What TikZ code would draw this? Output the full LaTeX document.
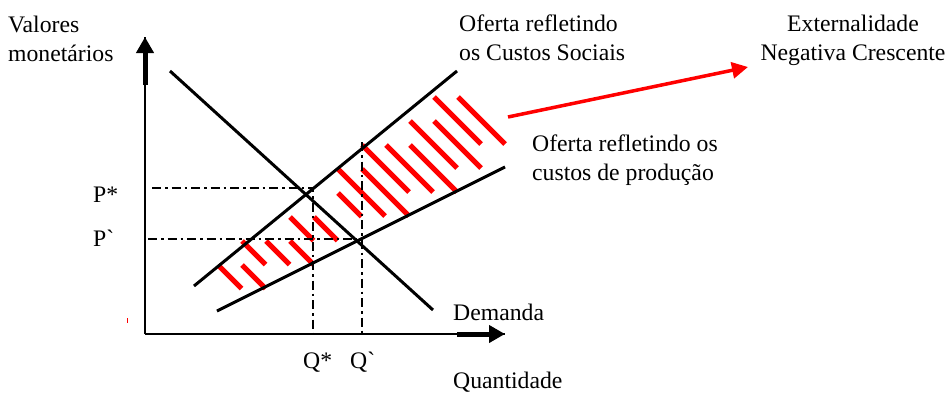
\documentclass[tikz,border=0pt]{standalone}
\usepackage{fontspec}
\setmainfont{Liberation Serif}
\usetikzlibrary{arrows.meta}
\tikzset{
  curva/.style={black, line width=3pt},
  guia/.style={black, line width=2.8pt, dash pattern=on 9pt off 4pt on 2.5pt off 4pt},
  hachura/.style={red, line width=5pt},
  rotulo/.style={inner sep=0pt, font=\fontsize{23.7}{28.5}\selectfont},
  ponta/.style={-{Triangle[length=16pt,width=17pt]}},
}

\begin{document}
\begin{tikzpicture}[x=1pt,y=-1pt]
\useasboundingbox (0,0) rectangle (948,394);
% eixos
\coordinate (O) at (145,334);
\coordinate (Ytopo) at (145,37);
\coordinate (Xfim) at (505,334);
\draw[black,line width=2.5pt] (O) -- (Ytopo);
\draw[black,line width=2.5pt] (O) -- (Xfim);
\draw[black,line width=5pt,ponta] (145,85) -- (Ytopo);
\draw[black,line width=5pt,ponta] (457,334) -- (Xfim);
% hachuras
\foreach \c/\r/\n in {0/0/1, 1/0/1, 1/1/1, 2/1/1, 3/1/1, 3/2/1, 4/2/1, 5/3/1,
  5/4/2, 6/4/2, 6/5/2, 7/5/2, 8/5/2, 8/6/2, 9/6/2, 9/7/2, 10/7/2} {
 \draw[hachura] ({218+24*\c},{265-24*\r}) --++ ({23.5*\n},{23.5*\n});
}
% curvas
\draw[curva] (170,71) -- (433,310);
\draw[curva] (194,286) -- (457,71);
\draw[curva] (217,311) -- (505,167);
% linhas de referencia
\draw[guia] (152,188) -- (313,188) -- (313,334);
\draw[guia] (148,239) -- (357,239);
\draw[guia] (362,142) -- (362,334);
\draw[red,line width=1pt] (127.5,318) -- (127.5,323);
% seta
\coordinate (Sbase) at (508,117);
\coordinate (Sfim) at (748,67);
\draw[red,line width=3.5pt,-{Triangle[length=16pt,width=16pt]}] (Sbase) -- (Sfim);
% textos
\node[rotulo,anchor=base west,align=left] (vm) at (8,61) {Valores\\monet\'arios};
\node[rotulo,anchor=base west,align=left] (os) at (459,60) {Oferta refletindo\\os Custos Sociais};
\node[rotulo,anchor=base,align=center] (ext) at (853,60) {Externalidade\\Negativa Crescente};
\node[rotulo,anchor=base west,align=left] (op) at (532,180) {Oferta refletindo os\\custos de produ\c{c}\~ao};
\node[rotulo,anchor=base west] (dem) at (453,320) {Demanda};
\node[rotulo,anchor=base west] (pe) at (93,202) {P*};
\node[rotulo,anchor=base west] (pl) at (93,246) {P\textasciigrave};
\node[rotulo,anchor=base west] (qe) at (303,368) {Q*};
\node[rotulo,anchor=base west] (ql) at (350,368) {Q\textasciigrave};
\node[rotulo,anchor=base west] (qt) at (453,388) {Quantidade};
\end{tikzpicture}
\end{document}
